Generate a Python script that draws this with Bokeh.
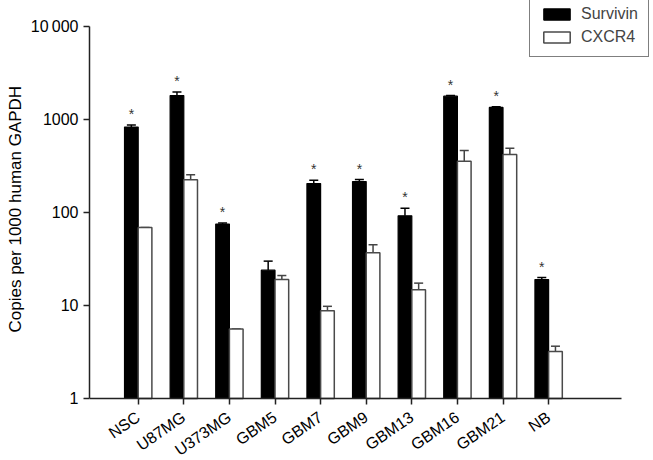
from bokeh.plotting import figure
from bokeh.models import (ColumnDataSource, FixedTicker, Whisker, TeeHead, Range1d, Title)
from bokeh.core.properties import value
from bokeh.embed import file_html
from bokeh.resources import INLINE

categories = ["NSC", "U87MG", "U373MG", "GBM5", "GBM7", "GBM9", "GBM13", "GBM16", "GBM21", "NB"]
survivin = [830, 1810, 75, 24, 205, 215, 92, 1780, 1350, 19]
survivin_err = [40, 160, 2, 6, 17, 11, 19, 30, 20, 1]
cxcr4 = [69, 225, 5.6, 19, 8.8, 37, 14.8, 355, 420, 3.2]
cxcr4_err = [0, 29, 0, 2, 1, 8, 2.6, 110, 70, 0.45]
significant = [1, 1, 1, 0, 1, 1, 1, 1, 1, 1]
y_ticks = [1, 10, 100, 1000, 10000]
y_tick_labels = ["1", "10", "100", "1000", "10\u2009000"]
y_title = "Copies per 1000 human GAPDH"

FONT = "Liberation Sans"
W = 0.3
idx = list(range(len(categories)))
X_START = -1.068
X_AXIS_END = 10.6

s_src = ColumnDataSource(dict(
    x=[i - W / 2 for i in idx], top=survivin,
    upper=[v + e for v, e in zip(survivin, survivin_err)],
))
c_src = ColumnDataSource(dict(
    x=[i + W / 2 for i in idx], top=cxcr4,
    upper=[v + e for v, e in zip(cxcr4, cxcr4_err)],
))
star_src = ColumnDataSource(dict(
    x=[i - W / 2 for i, s in zip(idx, significant) if s],
    y=[v + e for v, e, s in zip(survivin, survivin_err, significant) if s],
    t=["*" for s in significant if s],
))

p = figure(width=652, height=460, y_axis_type="log",
           x_range=Range1d(X_START, 11.278), y_range=Range1d(0.21544, 19035),
           output_backend="svg", toolbar_location=None,
           min_border_left=89, min_border_right=0, min_border_top=0, min_border_bottom=0)

p.vbar(x="x", top="top", bottom=y_ticks[0], width=W, source=s_src, fill_color="black",
       line_color="black", line_width=1.2, legend_label="Survivin")
p.vbar(x="x", top="top", bottom=y_ticks[0], width=W, source=c_src, fill_color="white",
       line_color="#4a4a4a", line_width=1.5, legend_label="CXCR4")

for src, col in ((s_src, "black"), (c_src, "#444444")):
    w = Whisker(base="x", lower="top", upper="upper", source=src, dimension="height",
                line_color=col, line_width=1.5, lower_head=None,
                upper_head=TeeHead(size=9, line_color=col, line_width=1.5))
    p.add_layout(w)

p.text(x="x", y="y", text="t", source=star_src, text_align="center",
       text_baseline="middle", y_offset=-11, text_font=value(FONT),
       text_font_size="14px", text_color="#333333")

p.xaxis.ticker = FixedTicker(ticks=idx)
p.xaxis.major_label_overrides = {i: c for i, c in zip(idx, categories)}
p.xaxis.major_label_orientation = 0.6
p.xaxis.bounds = (X_START, X_AXIS_END)
p.xaxis.fixed_location = y_ticks[0]
p.yaxis.ticker = FixedTicker(ticks=y_ticks)
p.yaxis.major_label_overrides = {t: l for t, l in zip(y_ticks, y_tick_labels)}
p.yaxis.bounds = (y_ticks[0], y_ticks[-1])

for ax in (p.xaxis[0], p.yaxis[0]):
    ax.axis_line_color = "#222222"
    ax.axis_line_width = 1.5
    ax.major_tick_line_color = "#222222"
    ax.major_tick_line_width = 1.5
    ax.major_tick_out = 6
    ax.major_tick_in = 0
    ax.minor_tick_line_color = None
    ax.major_label_text_font = FONT
    ax.major_label_text_font_size = "16px"
    ax.major_label_text_color = "black"
    ax.major_label_standoff = 5
p.xaxis.major_label_standoff = 11

ytitle = Title(text=y_title, align="left", offset=128, standoff=5,
               text_font=FONT, text_font_size="17px", text_font_style="normal",
               text_color="black")
p.add_layout(ytitle, "left")

p.xgrid.grid_line_color = None
p.ygrid.grid_line_color = None
p.outline_line_color = None

leg = p.legend[0]
leg.location = (440, 403)
leg.border_line_color = "black"
leg.border_line_width = 1.2
leg.background_fill_alpha = 1
leg.label_text_font = FONT
leg.label_text_font_size = "16px"
leg.glyph_width = 33
leg.glyph_height = 14
leg.label_height = 15
leg.label_standoff = 8
leg.padding = 10
leg.spacing = 5
leg.margin = 0

open("out.html", "w").write(file_html(p, INLINE))
